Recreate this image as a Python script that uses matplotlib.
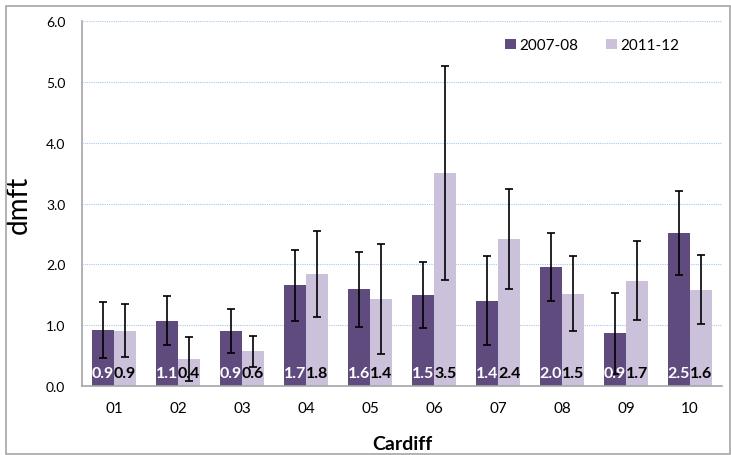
import matplotlib
matplotlib.use("Agg")
import matplotlib.pyplot as plt
import numpy as np
from matplotlib.patches import Rectangle

categories = ["01", "02", "03", "04", "05", "06", "07", "08", "09", "10"]
series_names = ["2007-08", "2011-12"]
dmft_0708 = [0.92, 1.07, 0.90, 1.66, 1.59, 1.50, 1.40, 1.96, 0.87, 2.52]
low_0708 = [0.46, 0.67, 0.54, 1.07, 0.97, 0.95, 0.67, 1.40, 0.20, 1.83]
high_0708 = [1.38, 1.48, 1.26, 2.24, 2.20, 2.04, 2.14, 2.52, 1.53, 3.21]
dmft_1112 = [0.90, 0.44, 0.58, 1.84, 1.43, 3.50, 2.42, 1.51, 1.73, 1.58]
low_1112 = [0.48, 0.08, 0.31, 1.13, 0.53, 1.74, 1.60, 0.90, 1.09, 1.02]
high_1112 = [1.34, 0.81, 0.83, 2.55, 2.34, 5.26, 3.24, 2.14, 2.39, 2.15]
yticks = [0.0, 1.0, 2.0, 3.0, 4.0, 5.0, 6.0]

dark = "#5F4B7E"
light = "#CBC1DB"
font = ["Lato", "DejaVu Sans"]

fig = plt.figure(figsize=(7.31, 4.56), dpi=100)
W, H = 731, 456
ax = fig.add_axes([82 / W, (H - 387) / H, 640 / W, 365 / H])

x = np.arange(len(categories))
w = 0.35
d = np.array(dmft_0708); l = np.array(dmft_1112)
err_d = [d - np.array(low_0708), np.array(high_0708) - d]
err_l = [l - np.array(low_1112), np.array(high_1112) - l]

ax.bar(x - w / 2, d, w, color=dark, label=series_names[0], zorder=2)
ax.bar(x + w / 2, l, w, color=light, label=series_names[1], zorder=2)
ax.errorbar(x - w / 2, d, yerr=err_d, fmt="none", ecolor="black", elinewidth=1.2,
            capsize=3, capthick=1.2, zorder=3)
ax.errorbar(x + w / 2, l, yerr=err_l, fmt="none", ecolor="black", elinewidth=1.2,
            capsize=3, capthick=1.2, zorder=3)

for xi, v in zip(x, d):
    ax.text(xi - w / 2, 0.21, f"{v:.1f}", ha="center", va="center", color="white",
            fontsize=11.5, fontweight="bold", family=font, zorder=4)
for xi, v in zip(x, l):
    ax.text(xi + w / 2, 0.21, f"{v:.1f}", ha="center", va="center", color="black",
            fontsize=11.5, fontweight="bold", family=font, zorder=4)

ax.set_xlim(-0.5, len(categories) - 0.5)
ax.set_ylim(0, 6)
ax.set_yticks(yticks)
ax.set_yticklabels([f"{t:.1f}" for t in yticks], family=font, fontsize=10)
ax.set_xticks(x)
ax.set_xticklabels(categories, family=font, fontsize=11)
ax.tick_params(axis="both", length=0)
ax.tick_params(axis="y", pad=12)
ax.tick_params(axis="x", pad=11)
ax.yaxis.grid(True, color="#A9C8EC", linestyle=(0, (1, 1)), linewidth=0.8, zorder=0)
ax.set_axisbelow(True)
for s in ["top", "right"]:
    ax.spines[s].set_visible(False)
for s in ["left", "bottom"]:
    ax.spines[s].set_color("#A6A6A6")
    ax.spines[s].set_linewidth(1.2)

ax.set_ylabel("dmft", family=font, fontsize=20, labelpad=10)
ax.set_xlabel("Cardiff", family=font, fontsize=14, fontweight="bold", labelpad=14)

leg = ax.legend(loc="upper right", bbox_to_anchor=(0.955, 0.99), ncol=2, frameon=False,
                prop={"family": font, "size": 11}, handlelength=0.7, handleheight=0.7,
                columnspacing=1.8, handletextpad=0.25)

fig.patches.append(Rectangle((6 / W, 1 / H), 724 / W, (H - 8) / H, transform=fig.transFigure,
                             fill=False, edgecolor="#A6A6A6", linewidth=1.2))

fig.savefig("out.png", dpi=100)
